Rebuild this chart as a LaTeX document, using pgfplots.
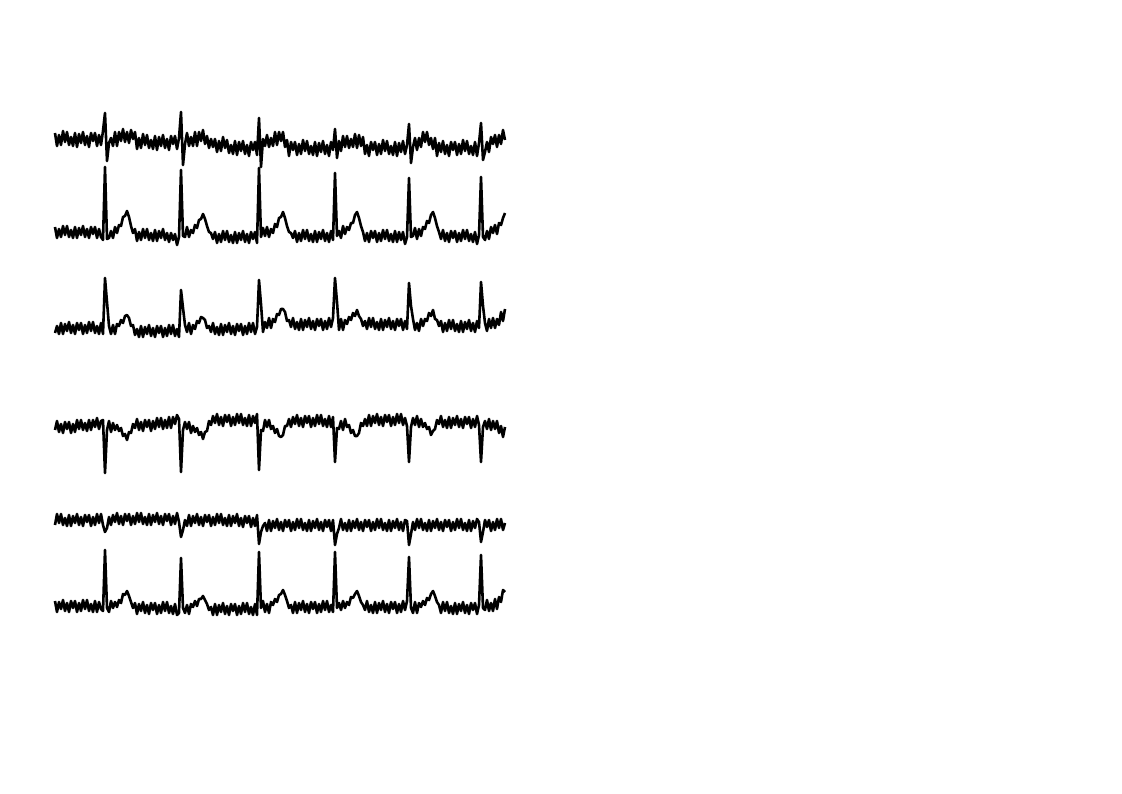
\documentclass[border=0pt]{standalone}
\usepackage{pgfplots}
\pgfplotsset{compat=1.18}
\pgfplotsset{ecg/.style={hide axis, scale only axis, clip=false, width=225pt, height=80pt,
  xmin=0, xmax=225, ymin=-80, ymax=80, anchor=south west},
  ecgline/.style={black, line width=1.3pt, line join=round, mark=none}}
\begin{document}
\begin{tikzpicture}
\path[use as bounding box] (0,0) rectangle (561pt,396.5pt);
% Lead 1
\begin{axis}[ecg, at={(27.5pt,286.5pt)}]
\addplot[ecgline] table[row sep=\\, header=false, x expr=\coordindex, y index=0] {
7\\-6\\5\\-5\\9\\-2\\8\\-5\\3\\-6\\7\\-7\\6\\-3\\8\\-5\\4\\-7\\7\\-1\\
7\\-6\\5\\-5\\9\\27\\-21\\-3\\2\\-6\\8\\-6\\8\\-1\\11\\-2\\8\\-3\\10\\1\\
8\\-9\\2\\-8\\6\\-5\\5\\-8\\0\\-9\\4\\-10\\3\\-6\\5\\-8\\1\\-10\\4\\-4\\
4\\-9\\2\\28\\-25\\-4\\7\\-6\\3\\-6\\8\\-6\\8\\-1\\10\\-4\\4\\-8\\1\\-7\\
1\\-12\\-1\\-11\\3\\-8\\0\\-13\\-5\\-14\\-1\\-15\\-2\\-11\\-1\\-14\\-5\\-16\\-2\\-10\\
-2\\-15\\22\\-27\\1\\-6\\5\\-7\\2\\-6\\8\\-5\\8\\-1\\8\\-7\\0\\-16\\-2\\-10\\
-2\\-15\\-4\\-14\\0\\-11\\-1\\-14\\-6\\-15\\-2\\-16\\-3\\-12\\-1\\-14\\-5\\-16\\-2\\-10\\
11\\-18\\-1\\-11\\4\\-7\\4\\-8\\1\\-7\\6\\-8\\5\\-6\\3\\-14\\-5\\-16\\-2\\-10\\
-2\\-15\\-4\\-14\\0\\-11\\-1\\-14\\-6\\-15\\-2\\-16\\-3\\-12\\-1\\-14\\-5\\16\\-23\\-7\\
2\\-10\\2\\-7\\8\\-2\\8\\-5\\2\\-9\\2\\-16\\-3\\-12\\-1\\-14\\-5\\-16\\-2\\-10\\
-2\\-15\\-4\\-14\\0\\-11\\-1\\-14\\-6\\-15\\-2\\-16\\-3\\17\\-20\\-12\\-2\\-12\\3\\-4\\
5\\-7\\5\\-4\\10\\0\\
};
\end{axis}
% Lead 2
\begin{axis}[ecg, at={(27.5pt,239.5pt)}]
\addplot[ecgline] table[row sep=\\, header=false, x expr=\coordindex, y index=0] {
7\\-4\\5\\-3\\8\\-1\\8\\-3\\4\\-4\\7\\-4\\6\\-1\\8\\-3\\5\\-4\\7\\0\\
7\\-4\\5\\-3\\-6\\67\\-5\\-4\\3\\-4\\7\\1\\9\\8\\17\\18\\23\\17\\8\\1\\
5\\-7\\2\\-6\\5\\-4\\5\\-6\\1\\-7\\4\\-7\\3\\-4\\5\\-6\\1\\-8\\1\\-6\\
0\\-11\\-3\\64\\-2\\-3\\7\\-3\\4\\1\\9\\6\\14\\15\\20\\15\\8\\2\\1\\-5\\
2\\-9\\0\\-8\\3\\-6\\3\\-8\\-1\\-9\\2\\-9\\1\\-6\\3\\-8\\0\\-9\\2\\-5\\
2\\-9\\66\\-3\\6\\-2\\7\\-3\\5\\1\\10\\7\\16\\17\\22\\16\\8\\2\\1\\-4\\
3\\-8\\1\\-7\\4\\-5\\4\\-7\\0\\-8\\3\\-8\\2\\-5\\4\\-7\\1\\-8\\3\\-6\\
61\\-2\\3\\-4\\8\\0\\7\\4\\11\\11\\19\\22\\16\\8\\2\\-7\\1\\-8\\3\\-4\\
3\\-8\\1\\-7\\4\\-5\\4\\-7\\0\\-8\\3\\-8\\2\\-6\\2\\-10\\-3\\56\\-3\\-2\\
6\\-5\\5\\-2\\7\\5\\13\\11\\19\\22\\16\\8\\2\\-5\\4\\-7\\1\\-8\\3\\-4\\
3\\-8\\1\\-7\\4\\-5\\4\\-7\\0\\-8\\2\\-10\\-1\\57\\-3\\-6\\3\\-5\\7\\1\\
9\\0\\11\\9\\16\\21\\
};
\end{axis}
% Lead 3
\begin{axis}[ecg, at={(27.5pt,193.5pt)}]
\addplot[ecgline] table[row sep=\\, header=false, x expr=\coordindex, y index=0] {
-7\\0\\-8\\3\\-8\\2\\-5\\4\\-7\\1\\-8\\3\\-4\\3\\-8\\1\\-7\\4\\-5\\4\\
-7\\0\\-8\\3\\-8\\48\\24\\0\\-8\\1\\-8\\2\\0\\6\\3\\10\\11\\8\\0\\1\\
-9\\-3\\-11\\0\\-11\\-1\\-8\\1\\-10\\-2\\-11\\0\\-7\\0\\-11\\-2\\-10\\1\\-8\\1\\
-10\\-3\\-11\\36\\18\\1\\-6\\3\\-8\\1\\-3\\5\\3\\9\\8\\6\\-2\\0\\-6\\3\\
-8\\-1\\-9\\2\\-9\\1\\-6\\3\\-8\\0\\-9\\2\\-5\\2\\-9\\0\\-8\\3\\-6\\3\\
-8\\-1\\46\\22\\-6\\4\\-2\\8\\-2\\7\\4\\12\\11\\17\\17\\14\\5\\6\\-1\\8\\
-3\\4\\-4\\7\\-4\\6\\-1\\8\\-3\\5\\-4\\7\\0\\7\\-4\\5\\-3\\8\\-1\\8\\
48\\24\\-4\\7\\-4\\6\\2\\9\\6\\13\\10\\16\\10\\7\\0\\5\\-3\\8\\-1\\8\\
-3\\4\\-4\\7\\-4\\6\\-1\\8\\-3\\5\\-4\\7\\0\\7\\-4\\5\\-3\\43\\20\\7\\
-4\\3\\-5\\7\\0\\7\\5\\13\\10\\16\\7\\6\\0\\5\\-6\\3\\-5\\6\\-3\\6\\
-5\\2\\-6\\5\\-6\\4\\-3\\6\\-5\\3\\-6\\5\\-2\\44\\20\\3\\-5\\7\\-2\\8\\
-2\\7\\1\\14\\5\\17\\
};
\end{axis}
% Lead 4
\begin{axis}[ecg, at={(27.5pt,144pt)}]
\addplot[ecgline] table[row sep=\\, header=false, x expr=\coordindex, y index=0] {
-5\\4\\-7\\1\\-8\\3\\-4\\3\\-8\\1\\-7\\5\\-4\\5\\-5\\2\\-6\\5\\-5\\5\\
-2\\7\\-4\\4\\5\\-48\\-5\\4\\-7\\2\\-5\\0\\-6\\-3\\-11\\-9\\-15\\-7\\-8\\1\\
-3\\6\\-5\\3\\-6\\5\\-2\\5\\-6\\4\\-4\\7\\-2\\7\\-4\\5\\-3\\8\\-3\\8\\
1\\10\\6\\-47\\-5\\3\\-4\\3\\-8\\-1\\-7\\-3\\-10\\-7\\-14\\-7\\-6\\4\\0\\9\\
2\\11\\0\\8\\-1\\10\\3\\10\\-1\\8\\0\\11\\2\\11\\0\\7\\-1\\10\\-1\\9\\
2\\11\\-45\\-5\\-6\\5\\-2\\5\\-4\\-1\\-8\\-4\\-11\\-12\\-10\\-1\\-1\\6\\-2\\8\\
1\\10\\-1\\7\\-2\\9\\2\\9\\-2\\7\\-1\\10\\1\\10\\-1\\6\\-2\\9\\-2\\8\\
-37\\-3\\-4\\4\\-5\\6\\-2\\0\\-8\\-5\\-11\\-11\\-8\\2\\-1\\6\\-1\\10\\-1\\9\\
2\\11\\0\\8\\-1\\10\\3\\10\\-1\\8\\0\\11\\2\\11\\0\\7\\-1\\-37\\-2\\7\\
0\\9\\-2\\6\\-2\\2\\-4\\-2\\-10\\-6\\-4\\5\\1\\9\\-2\\5\\-3\\8\\-3\\7\\
0\\9\\-2\\6\\-3\\8\\1\\8\\-3\\6\\-2\\9\\0\\-37\\-2\\4\\-4\\6\\-5\\4\\
-4\\4\\-8\\-1\\-12\\-2\\
};
\end{axis}
% Lead 5
\begin{axis}[ecg, at={(27.5pt,95.5pt)}]
\addplot[ecgline] table[row sep=\\, header=false, x expr=\coordindex, y index=0] {
-3\\8\\-1\\8\\-3\\4\\-4\\7\\-4\\6\\-1\\8\\-3\\5\\-4\\7\\0\\7\\-4\\5\\
-3\\8\\-1\\8\\-3\\-10\\-6\\5\\-3\\7\\0\\9\\-2\\6\\-3\\8\\1\\8\\-3\\6\\
-2\\9\\0\\9\\-2\\5\\-3\\8\\-3\\7\\0\\9\\-2\\6\\-3\\8\\1\\8\\-3\\6\\
-2\\9\\0\\-15\\-8\\2\\-4\\7\\-4\\6\\-1\\8\\-3\\5\\-4\\7\\0\\7\\-4\\5\\
-3\\8\\-1\\8\\-3\\4\\-4\\7\\-4\\6\\-1\\8\\-4\\4\\-5\\6\\-1\\6\\-5\\4\\
-4\\7\\-22\\-10\\-4\\-1\\-9\\2\\-9\\1\\-6\\3\\-8\\0\\-9\\2\\-5\\2\\-9\\0\\
-8\\3\\-6\\3\\-8\\-1\\-9\\2\\-9\\1\\-6\\3\\-8\\0\\-9\\2\\-5\\2\\-9\\2\\
-23\\-12\\-6\\3\\-8\\-1\\-9\\2\\-9\\1\\-6\\3\\-8\\0\\-9\\2\\-5\\2\\-9\\0\\
-8\\3\\-6\\3\\-8\\-1\\-9\\2\\-9\\1\\-6\\3\\-8\\0\\-9\\2\\1\\-23\\-12\\0\\
-8\\3\\-6\\3\\-8\\-1\\-9\\2\\-9\\1\\-6\\3\\-8\\0\\-9\\2\\-5\\2\\-9\\0\\
-8\\3\\-6\\3\\-8\\-1\\-9\\2\\-9\\1\\-6\\3\\0\\-20\\-10\\2\\-5\\2\\-9\\0\\
-8\\3\\-6\\3\\-8\\-1\\
};
\end{axis}
% Lead 6
\begin{axis}[ecg, at={(27.5pt,53.5pt)}]
\addplot[ecgline] table[row sep=\\, header=false, x expr=\coordindex, y index=0] {
5\\-6\\4\\-3\\6\\-5\\3\\-6\\5\\-2\\5\\-6\\3\\-5\\6\\-3\\6\\-5\\2\\-6\\
5\\-6\\4\\-3\\-5\\56\\-2\\-6\\5\\-2\\4\\-1\\6\\3\\12\\11\\15\\10\\4\\-2\\
3\\-8\\2\\-5\\4\\-7\\1\\-8\\3\\-4\\3\\-8\\1\\-7\\4\\-5\\4\\-7\\0\\-8\\
2\\-9\\-7\\48\\-2\\-7\\1\\-8\\2\\-1\\5\\0\\7\\7\\10\\6\\2\\-4\\-1\\-9\\
2\\-9\\1\\-6\\3\\-8\\0\\-9\\2\\-5\\2\\-9\\0\\-8\\3\\-6\\3\\-8\\-1\\-9\\
2\\-9\\54\\-2\\5\\-6\\2\\-7\\4\\1\\7\\4\\11\\12\\16\\11\\5\\-2\\1\\-7\\
4\\-7\\3\\-4\\5\\-6\\2\\-7\\4\\-3\\4\\-7\\2\\-6\\5\\-4\\5\\-6\\1\\-6\\
54\\-2\\3\\-4\\5\\-2\\4\\1\\9\\8\\12\\15\\10\\4\\1\\-4\\5\\-6\\1\\-7\\
4\\-7\\3\\-4\\5\\-6\\2\\-7\\4\\-3\\4\\-7\\2\\-6\\5\\-4\\5\\49\\-2\\-7\\
4\\-7\\3\\-1\\5\\1\\8\\6\\12\\15\\10\\4\\1\\-7\\4\\-5\\4\\-7\\0\\-8\\
3\\-8\\2\\-5\\4\\-7\\1\\-8\\3\\-4\\3\\-8\\1\\51\\-2\\-4\\6\\-5\\3\\-5\\
7\\-3\\9\\4\\16\\14\\
};
\end{axis}
\end{tikzpicture}
\end{document}
